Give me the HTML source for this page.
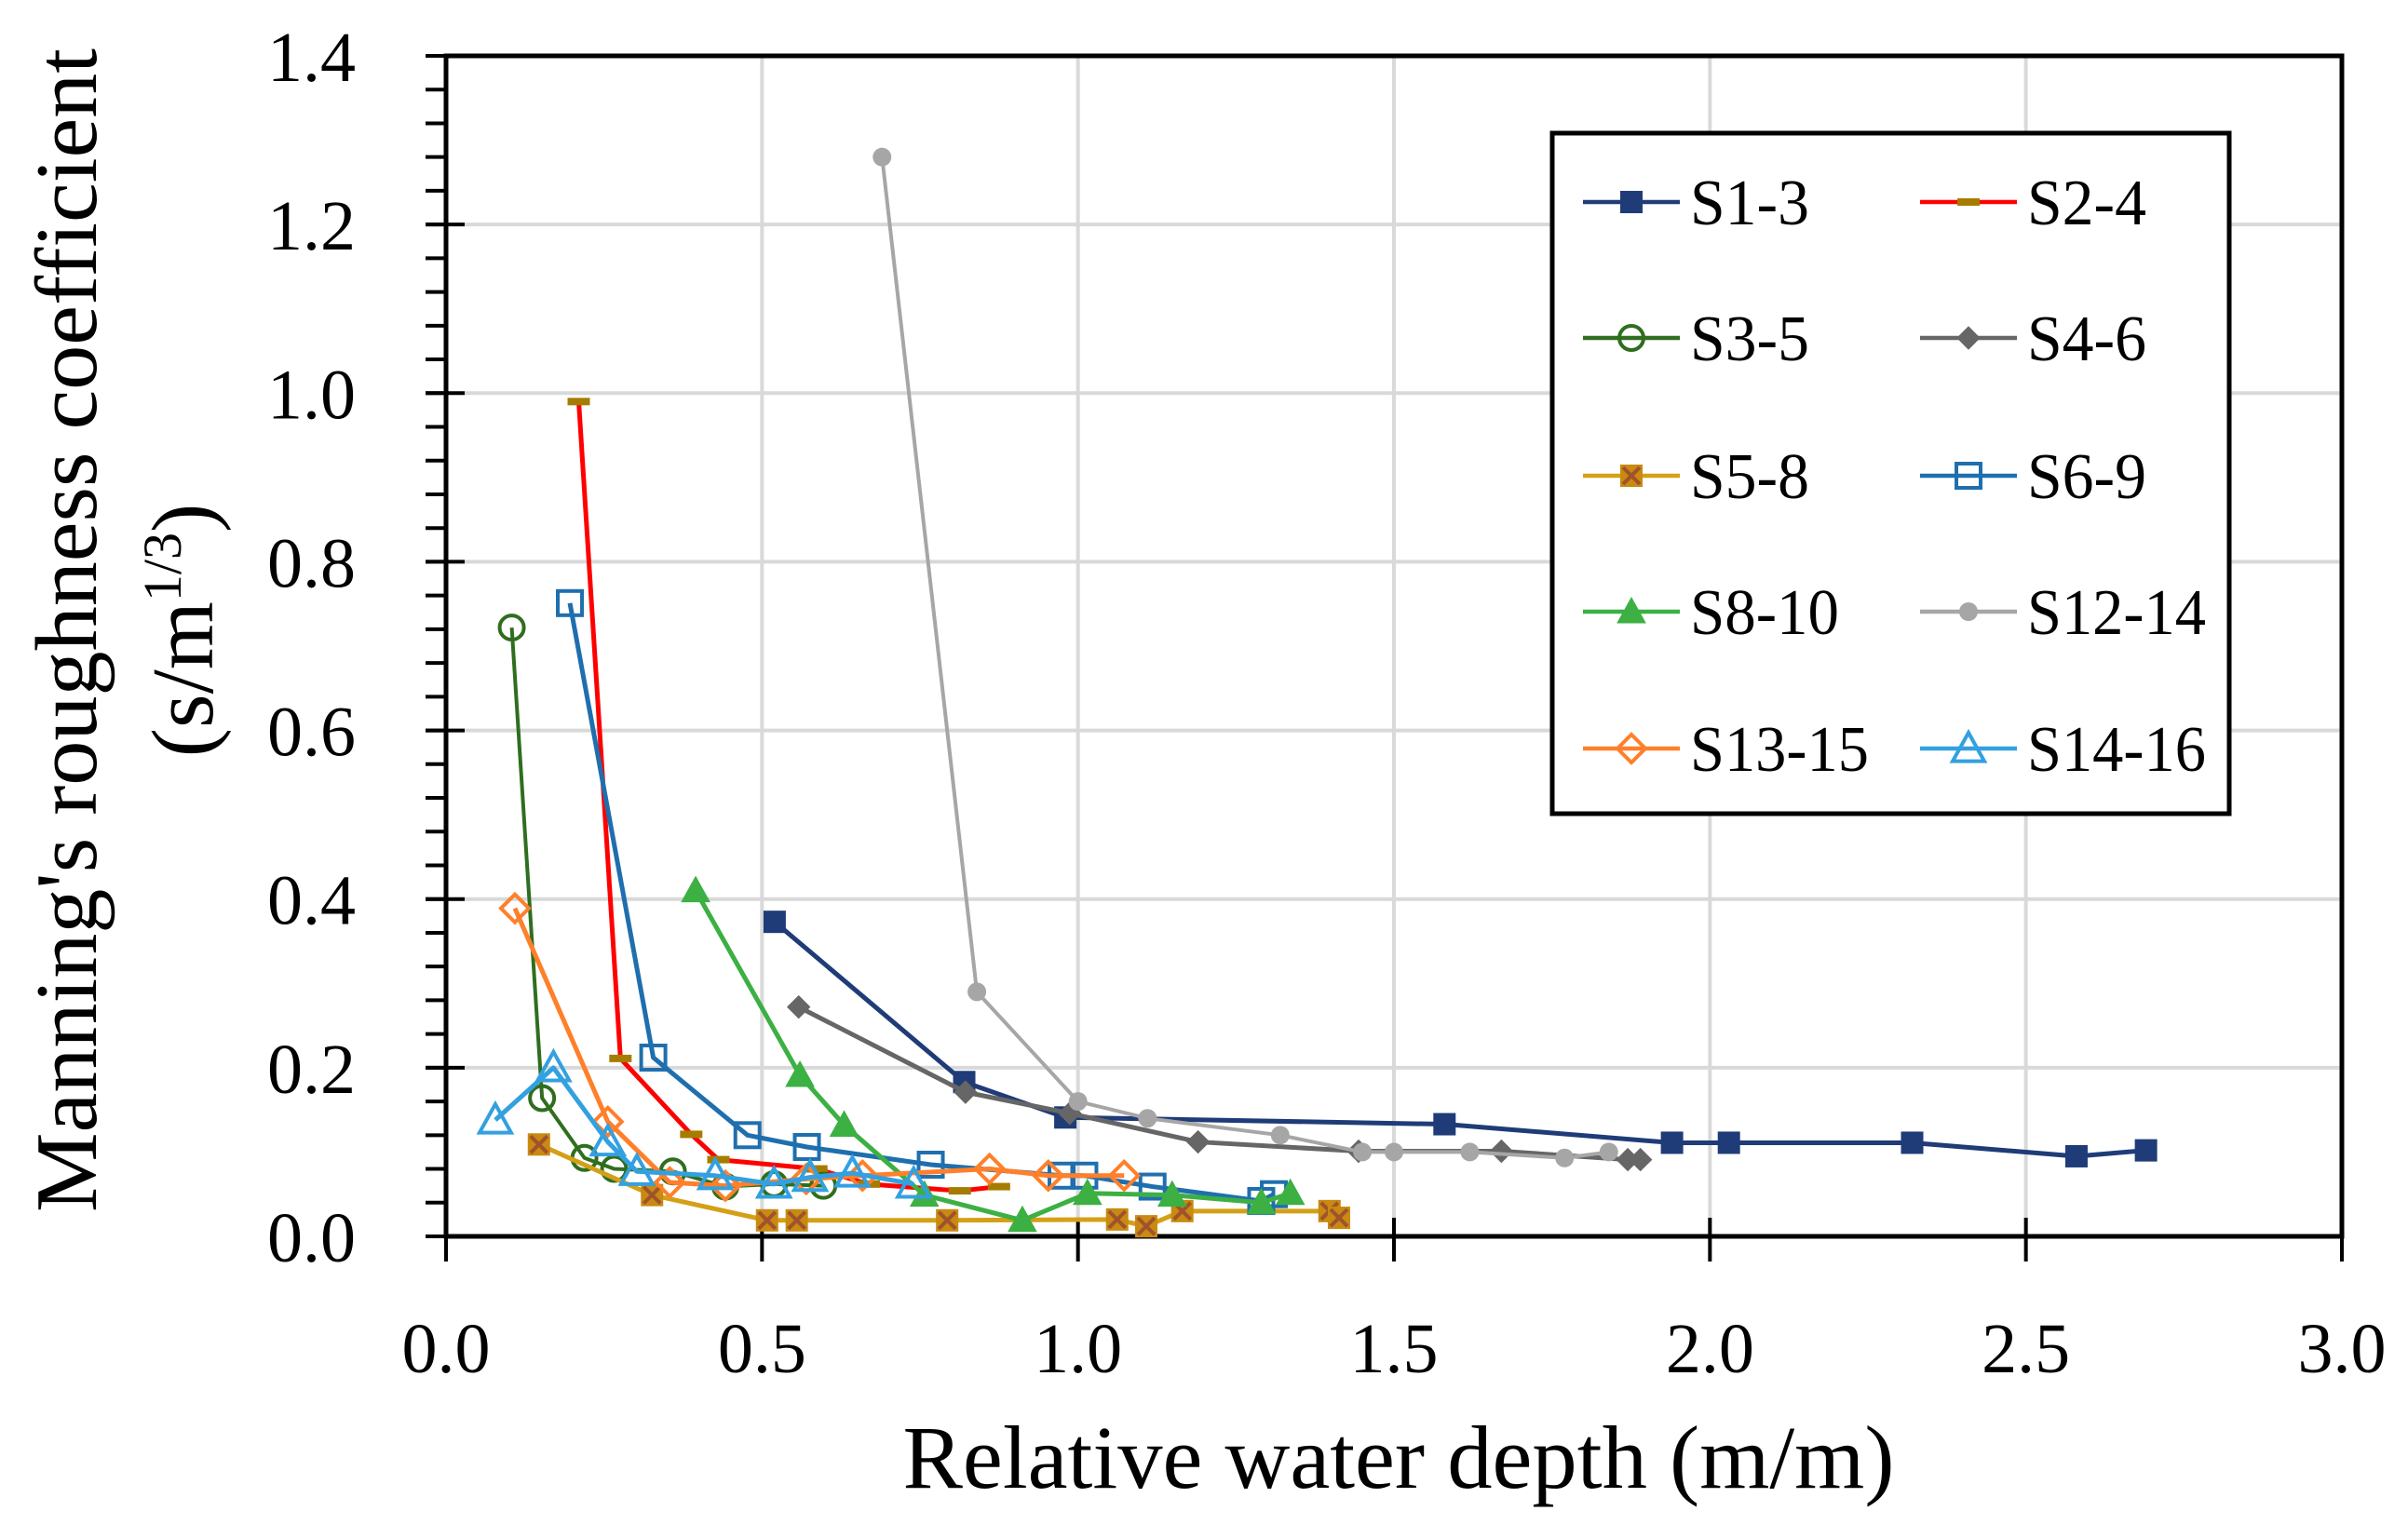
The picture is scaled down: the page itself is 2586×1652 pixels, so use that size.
<!DOCTYPE html>
<html><head><meta charset="utf-8"><style>
html,body{margin:0;padding:0;background:#fff;}
svg{display:block;}
text{font-family:"Liberation Serif",serif;fill:#000;}
</style></head><body>
<svg id="chart" width="2586" height="1652" viewBox="0 0 2586 1652">
<g id="grid"></g>
<g id="axes"></g>
<g id="series"></g>
<g id="legend"></g>
<text x="1502" y="1598" font-size="96" text-anchor="middle" textLength="1065" lengthAdjust="spacingAndGlyphs">Relative water depth (m/m)</text>
<text transform="translate(103,677) rotate(-90)" font-size="94" text-anchor="middle" textLength="1250" lengthAdjust="spacingAndGlyphs">Manning's roughness coefficient</text>
<text transform="translate(228,677) rotate(-90)" font-size="94" text-anchor="middle">(s/m<tspan font-size="58" dy="-34">1/3</tspan><tspan dy="34">)</tspan></text>
</svg>
<script>
const xTicks = [0, 0.5, 1.0, 1.5, 2.0, 2.5, 3.0];
const yTicks = [0, 0.2, 0.4, 0.6, 0.8, 1.0, 1.2, 1.4];
const seriesNames = ["S1-3","S2-4","S3-5","S4-6","S5-8","S6-9","S8-10","S12-14","S13-15","S14-16"];
const s1x = [0.52,0.82,0.98,1.58,1.94,2.03,2.32,2.58,2.69];
const s1y = [0.373,0.183,0.141,0.133,0.111,0.111,0.111,0.095,0.102];
const s2x = [0.21,0.276,0.388,0.431,0.586,0.669,0.813,0.875];
const s2y = [0.99,0.211,0.121,0.091,0.080,0.062,0.054,0.059];
const s3x = [0.104,0.152,0.219,0.266,0.359,0.442,0.519,0.597];
const s3y = [0.722,0.164,0.093,0.080,0.077,0.059,0.062,0.060];
const s4x = [0.558,0.822,0.987,1.19,1.444,1.67,1.87,1.89];
const s4y = [0.272,0.171,0.146,0.112,0.101,0.101,0.091,0.091];
const s5x = [0.147,0.326,0.508,0.555,0.793,1.062,1.108,1.165,1.398,1.413];
const s5y = [0.109,0.049,0.019,0.019,0.019,0.020,0.012,0.030,0.030,0.022];
const s6x = [0.196,0.328,0.477,0.571,0.767,0.974,1.01,1.118,1.29,1.31];
const s6y = [0.751,0.212,0.120,0.106,0.085,0.072,0.072,0.059,0.042,0.050];
const s7x = [0.395,0.56,0.63,0.757,0.912,1.015,1.149,1.29,1.336];
const s7y = [0.41,0.191,0.132,0.049,0.019,0.051,0.049,0.040,0.051];
const s8x = [0.69,0.84,1.0,1.11,1.32,1.45,1.50,1.62,1.77,1.84];
const s8y = [1.28,0.29,0.16,0.14,0.12,0.10,0.10,0.10,0.093,0.10];
const s9x = [0.109,0.256,0.354,0.442,0.57,0.659,0.86,0.953,1.073];
const s9y = [0.389,0.136,0.064,0.060,0.068,0.072,0.080,0.072,0.072];
const s10x = [0.078,0.17,0.256,0.302,0.426,0.519,0.576,0.643,0.74];
const s10y = [0.138,0.20,0.112,0.077,0.072,0.062,0.070,0.075,0.062];

const X0=479, X1=2515, Y0=1328, Y1=60;
function sx(v){return X0+(v-0)/(3-0)*(X1-X0);}
function sy(v){return Y0-(v-0)/(1.4-0)*(Y0-Y1);}
const NS="http://www.w3.org/2000/svg";
function mk(tag,attrs,parent){const e=document.createElementNS(NS,tag);for(const k in attrs)e.setAttribute(k,attrs[k]);parent.appendChild(e);return e;}

const grid=document.getElementById('grid');
xTicks.forEach(t=>{if(t>0&&t<3){const l=mk('line',{x1:sx(t),x2:sx(t),y1:Y1,y2:Y0,stroke:'#d9d9d9','stroke-width':4},grid);

}});
yTicks.forEach(t=>{if(t>0&&t<1.4){const l=mk('line',{x1:X0,x2:X1,y1:sy(t),y2:sy(t),stroke:'#d9d9d9','stroke-width':4},grid);

}});

const axes=document.getElementById('axes');
const frame=mk('rect',{x:X0,y:Y1,width:X1-X0,height:Y0-Y1,fill:'none',stroke:'#000','stroke-width':5},axes);


for(let v=0;v<=1.4001;v+=0.04){const y=sy(v);mk('line',{x1:X0-22,x2:X0,y1:y,y2:y,stroke:'#000','stroke-width':4},axes);}
yTicks.forEach(t=>{const y=sy(t);mk('line',{x1:X0-22,x2:X0+20,y1:y,y2:y,stroke:'#000','stroke-width':4},axes);
const tx=mk('text',{x:382,y:y+27,'font-size':76,'text-anchor':'end'},axes);tx.textContent=t.toFixed(1);

});
xTicks.forEach(t=>{const x=sx(t);mk('line',{x1:x,x2:x,y1:Y0-20,y2:Y0+27,stroke:'#000','stroke-width':4},axes);
const tx=mk('text',{x:x,y:1474,'font-size':76,'text-anchor':'middle'},axes);tx.textContent=t.toFixed(1);

});

const styles=[
 {c:'#1f3c78',m:'sq',f:'#1f3c78'},
 {c:'#ff0000',m:'dash',f:'#a67c00'},
 {c:'#2f6e1e',m:'circ',f:'none'},
 {c:'#666666',m:'dia',f:'#666666'},
 {c:'#d4a017',m:'xsq',f:'#c88a10'},
 {c:'#1f6fae',m:'sq',f:'none'},
 {c:'#3cb043',m:'tri',f:'#3cb043'},
 {c:'#a6a6a6',m:'dot',f:'#a6a6a6'},
 {c:'#ff7f2a',m:'dia',f:'none'},
 {c:'#33a0e0',m:'tri',f:'none'}];
const allX=[s1x,s2x,s3x,s4x,s5x,s6x,s7x,s8x,s9x,s10x];
const allY=[s1y,s2y,s3y,s4y,s5y,s6y,s7y,s8y,s9y,s10y];

function marker(g,st,x,y){
 const c=st.c,f=st.f,w=4;let e;
 if(st.m==='sq'){const s=st.f==='none'?26:20;e=mk('rect',{x:x-s/2,y:y-s/2,width:s,height:s,fill:f==='none'?'#fff':f,'fill-opacity':f==='none'?0:1,stroke:c,'stroke-width':w},g);}
 else if(st.m==='dash'){e=mk('rect',{x:x-12,y:y-4,width:24,height:8,fill:f,stroke:'none'},g);}
 else if(st.m==='circ'){e=mk('circle',{cx:x,cy:y,r:13,fill:'none',stroke:c,'stroke-width':w},g);}
 else if(st.m==='dot'){e=mk('circle',{cx:x,cy:y,r:10,fill:f,stroke:'none'},g);}
 else if(st.m==='dia'){const r=st.f==='none'?15:12;e=mk('polygon',{points:`${x},${y-r} ${x+r},${y} ${x},${y+r} ${x-r},${y}`,fill:f,stroke:c,'stroke-width':f==='none'?4:1},g);}
 else if(st.m==='tri'){const r=st.f==='none'?17:15;e=mk('polygon',{points:`${x},${y-r} ${x+r},${y+r*0.8} ${x-r},${y+r*0.8}`,fill:f,stroke:c,'stroke-width':f==='none'?4:1},g);}
 else if(st.m==='xsq'){e=mk('rect',{x:x-12,y:y-12,width:24,height:24,fill:f,stroke:'none'},g);
  mk('path',{d:`M${x-9},${y-9}L${x+9},${y+9}M${x+9},${y-9}L${x-9},${y+9}`,stroke:'#a0522d','stroke-width':4},g);}
 return e;
}

const sg=document.getElementById('series');
allX.forEach((xs,i)=>{
 const st=styles[i];
 const g=mk('g',{},sg);
 
 
 const pts=xs.map((v,j)=>sx(v)+','+sy(allY[i][j])).join(' ');
 const pl=mk('polyline',{points:pts,fill:'none',stroke:st.c,'stroke-width':i===7||i===2?4:5,'stroke-linejoin':'round'},g);
 
 
 xs.forEach((v,j)=>{const m=marker(g,st,sx(v),sy(allY[i][j]));
  
  });
});

const lg=document.getElementById('legend');
const box=mk('rect',{x:1667,y:143,width:727,height:731,fill:'#fff',stroke:'#000','stroke-width':5},lg);


const rows=[217,363,511,657,804];
seriesNames.forEach((n,i)=>{
 const col=i%2,row=Math.floor(i/2);
 const lx=col?2062:1700,y=rows[row];
 const g=mk('g',{},lg);
 
 
 mk('line',{x1:lx,x2:lx+104,y1:y,y2:y,stroke:styles[i].c,'stroke-width':4.5},g);
 marker(g,styles[i],lx+52,y);
 const t=mk('text',{x:lx+115,y:y+24,'font-size':70,textLength:n.length*32,lengthAdjust:'spacingAndGlyphs'},g);t.textContent=n;
});
</script>
</body></html>
